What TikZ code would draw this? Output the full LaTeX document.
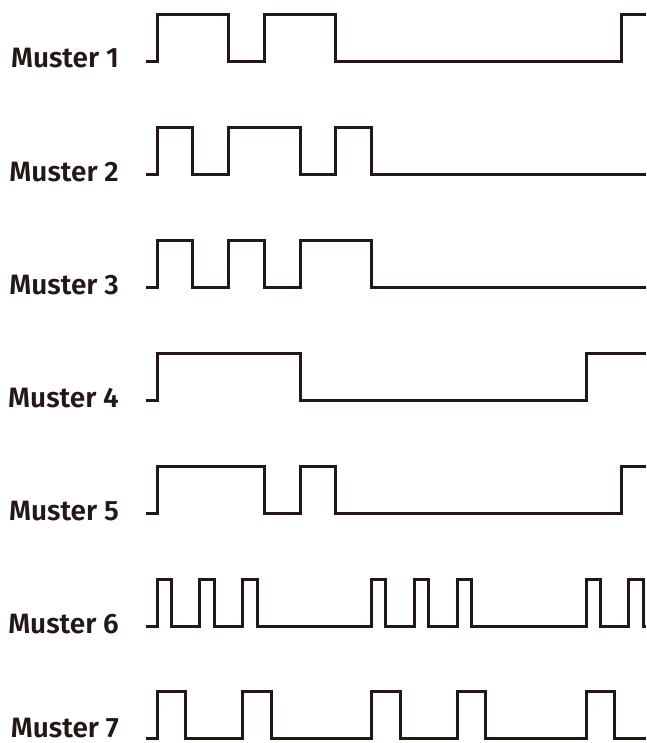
\documentclass[tikz,border=0pt]{standalone}
\usepackage{fontspec}
\setmainfont{Fira Sans}[UprightFont=* SemiBold]
\definecolor{ink}{HTML}{231815}

\tikzset{
  wave/.style={draw=ink, line width=3pt, line join=miter},
  muster/.style={anchor=base east, inner sep=0pt, text=ink,
    font=\fontsize{28}{32}\selectfont}
}

\begin{document}
\begin{tikzpicture}[x=1pt, y=-1pt]
  \useasboundingbox (0,0) rectangle (646,743);

  % --- Muster 1 ---
  \node[muster] (m1) at (119, 68) {Muster 1};
  \draw[wave] (146, 62) -- (157, 62) -- (157, 15) -- (228.5, 15) -- (228.5, 62)
    -- (264.25, 62) -- (264.25, 15) -- (335.75, 15) -- (335.75, 62)
    -- (621.75, 62) -- (621.75, 15) -- (646, 15);

  % --- Muster 2 ---
  \node[muster] (m2) at (119, 181.8) {Muster 2};
  \draw[wave] (146, 174.8) -- (157, 174.8) -- (157, 127.8) -- (192.75, 127.8)
    -- (192.75, 174.8) -- (228.5, 174.8) -- (228.5, 127.8) -- (300, 127.8)
    -- (300, 174.8) -- (335.75, 174.8) -- (335.75, 127.8) -- (371.5, 127.8)
    -- (371.5, 174.8) -- (646, 174.8);

  % --- Muster 3 ---
  \node[muster] (m3) at (119, 294.6) {Muster 3};
  \draw[wave] (146, 287.6) -- (157, 287.6) -- (157, 240.6) -- (192.75, 240.6)
    -- (192.75, 287.6) -- (228.5, 287.6) -- (228.5, 240.6) -- (264.25, 240.6)
    -- (264.25, 287.6) -- (300, 287.6) -- (300, 240.6) -- (371.5, 240.6)
    -- (371.5, 287.6) -- (646, 287.6);

  % --- Muster 4 ---
  \node[muster] (m4) at (119, 407.4) {Muster 4};
  \draw[wave] (146, 400.4) -- (157, 400.4) -- (157, 353.4) -- (300, 353.4)
    -- (300, 400.4) -- (586, 400.4) -- (586, 353.4) -- (646, 353.4);

  % --- Muster 5 ---
  \node[muster] (m5) at (119, 520.2) {Muster 5};
  \draw[wave] (146, 513.2) -- (157, 513.2) -- (157, 466.2) -- (264.25, 466.2)
    -- (264.25, 513.2) -- (300, 513.2) -- (300, 466.2) -- (335.75, 466.2)
    -- (335.75, 513.2) -- (621.75, 513.2) -- (621.75, 466.2) -- (646, 466.2);

  % --- Muster 6 ---
  \node[muster] (m6) at (119, 633) {Muster 6};
  \draw[wave] (146, 626) -- (157, 626) -- (157, 579) -- (171.3, 579) -- (171.3, 626)
    -- (199.9, 626) -- (199.9, 579) -- (214.2, 579) -- (214.2, 626)
    -- (242.8, 626) -- (242.8, 579) -- (257.1, 579) -- (257.1, 626)
    -- (371.5, 626) -- (371.5, 579) -- (385.8, 579) -- (385.8, 626)
    -- (414.4, 626) -- (414.4, 579) -- (428.7, 579) -- (428.7, 626)
    -- (457.3, 626) -- (457.3, 579) -- (471.6, 579) -- (471.6, 626)
    -- (586, 626) -- (586, 579) -- (600.3, 579) -- (600.3, 626)
    -- (628.9, 626) -- (628.9, 579) -- (643.2, 579) -- (643.2, 626)
    -- (646, 626);

  % --- Muster 7 ---
  \node[muster] (m7) at (119, 737) {Muster 7};
  \draw[wave] (146, 738.8) -- (157, 738.8) -- (157, 691.8) -- (185.6, 691.8)
    -- (185.6, 738.8) -- (242.8, 738.8) -- (242.8, 691.8) -- (271.4, 691.8)
    -- (271.4, 738.8) -- (371.5, 738.8) -- (371.5, 691.8) -- (400.1, 691.8)
    -- (400.1, 738.8) -- (457.3, 738.8) -- (457.3, 691.8) -- (485.9, 691.8)
    -- (485.9, 738.8) -- (586, 738.8) -- (586, 691.8) -- (614.6, 691.8)
    -- (614.6, 738.8) -- (646, 738.8);

\end{tikzpicture}
\end{document}
